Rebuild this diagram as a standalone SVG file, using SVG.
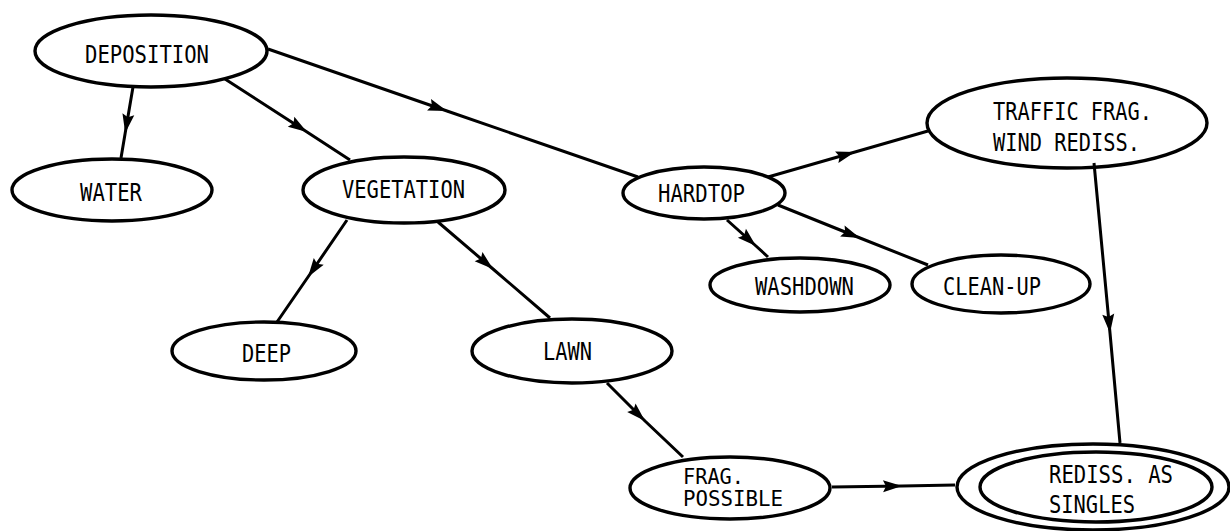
<svg xmlns="http://www.w3.org/2000/svg" width="1230" height="531" viewBox="0 0 1230 531">
<style>
.n{fill:none;stroke:#000;stroke-width:3.4}
.c{fill:none;stroke:#000;stroke-width:3;marker-mid:url(#ah)}
text{font-family:"DejaVu Sans Mono","Liberation Mono",monospace;font-size:25px;fill:#000}
.s{font-size:22px}
</style>
<defs>
<marker id="ah" markerUnits="userSpaceOnUse" markerWidth="22" markerHeight="14" refX="19" refY="6" orient="auto" overflow="visible">
<path d="M0,0 L19,6 L0,12 L3,6 z" fill="#000"/>
</marker>
</defs>
<rect width="1230" height="531" fill="#fff"/>
<g id="connectors">
<path class="c" d="M133,87 L125.2,133 L121,158"/>
<path class="c" d="M225,79 L307,132 L350,160"/>
<path class="c" d="M268,49 L447,111 L638,177"/>
<path class="c" d="M347,220 L308,277 L277,322"/>
<path class="c" d="M438,222 L493,269 L550,318"/>
<path class="c" d="M607,383 L645,421 L683,457"/>
<path class="c" d="M832,487 L902,486 L955,485"/>
<path class="c" d="M727,220 L756,246 L768,257"/>
<path class="c" d="M778,205 L860,238 L928,265"/>
<path class="c" d="M768,177 L855,152 L928,131"/>
<path class="c" d="M1094,163 L1110,333 L1120,443"/>
</g>
<g id="deposition"><ellipse class="n" cx="151" cy="51" rx="116" ry="36"/><text x="85" y="63" textLength="124" lengthAdjust="spacingAndGlyphs">DEPOSITION</text></g>
<g id="water"><ellipse class="n" cx="112" cy="190" rx="100" ry="31"/><text x="80" y="201" textLength="62" lengthAdjust="spacingAndGlyphs">WATER</text></g>
<g id="vegetation"><ellipse class="n" cx="404" cy="190" rx="101" ry="33"/><text x="342" y="198" textLength="123" lengthAdjust="spacingAndGlyphs">VEGETATION</text></g>
<g id="hardtop"><ellipse class="n" cx="704" cy="193" rx="81" ry="26"/><text x="658" y="202" textLength="87" lengthAdjust="spacingAndGlyphs">HARDTOP</text></g>
<g id="traffic"><ellipse class="n" cx="1067" cy="123" rx="140" ry="45"/><text x="993" y="120" textLength="159" lengthAdjust="spacingAndGlyphs">TRAFFIC FRAG.</text><text x="993" y="151" textLength="147" lengthAdjust="spacingAndGlyphs">WIND REDISS.</text></g>
<g id="washdown"><ellipse class="n" cx="800" cy="285" rx="90" ry="27"/><text x="755" y="295" textLength="99" lengthAdjust="spacingAndGlyphs">WASHDOWN</text></g>
<g id="cleanup"><ellipse class="n" cx="1001" cy="284" rx="89" ry="29"/><text x="943" y="295" textLength="98" lengthAdjust="spacingAndGlyphs">CLEAN-UP</text></g>
<g id="deep"><ellipse class="n" cx="264" cy="351" rx="92" ry="29"/><text x="242" y="362" textLength="49" lengthAdjust="spacingAndGlyphs">DEEP</text></g>
<g id="lawn"><ellipse class="n" cx="572" cy="351" rx="100" ry="32"/><text x="543" y="360" textLength="49" lengthAdjust="spacingAndGlyphs">LAWN</text></g>
<g id="fragpossible"><ellipse class="n" cx="730" cy="488" rx="100" ry="31"/><text class="s" x="683" y="484" textLength="61" lengthAdjust="spacingAndGlyphs">FRAG.</text><text class="s" x="683" y="506" textLength="100" lengthAdjust="spacingAndGlyphs">POSSIBLE</text></g>
<g id="rediss"><ellipse class="n" cx="1093" cy="487" rx="136" ry="43"/><ellipse class="n" cx="1096" cy="487" rx="116" ry="35"/><text x="1049" y="483" textLength="124" lengthAdjust="spacingAndGlyphs">REDISS. AS</text><text x="1049" y="513" textLength="86" lengthAdjust="spacingAndGlyphs">SINGLES</text></g>
</svg>
